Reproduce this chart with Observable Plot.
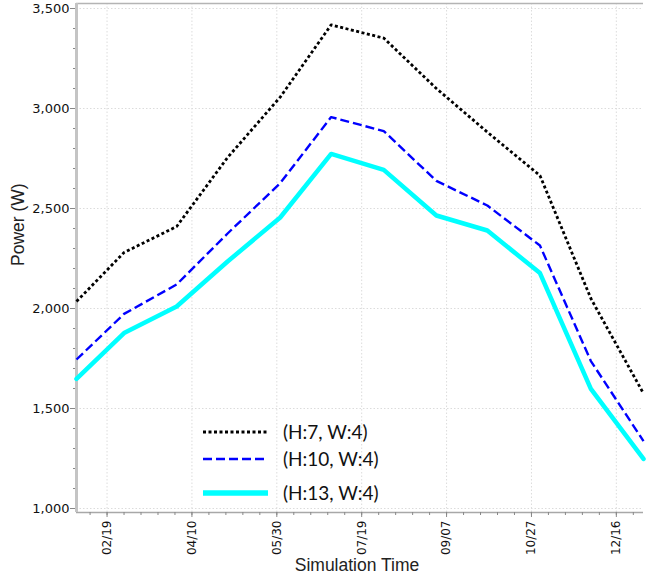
<!DOCTYPE html>
<html><head><meta charset="utf-8">
<script src="https://cdn.jsdelivr.net/npm/d3@7"></script>
<script src="https://cdn.jsdelivr.net/npm/@observablehq/plot@0.6"></script>
<style>
body{margin:0;background:#fff}
#wrap{position:relative;width:648px;height:586px}
#legend{position:absolute;left:203px;top:0;font-family:Lato,"Open Sans",sans-serif;font-size:19px;color:#111}
.row{position:absolute;left:0;white-space:nowrap}
.row svg{position:absolute;left:0;overflow:visible}
.row span{position:absolute;left:80px;line-height:20px}
</style>
</head><body><div id="wrap"></div>
<script>
// --- data ---
const dates = ["2019-02-01","2019-03-01","2019-04-01","2019-05-01","2019-06-01","2019-07-01","2019-08-01","2019-09-01","2019-10-01","2019-11-01","2019-12-01","2020-01-01"];
const seriesNames = ["(H:7, W:4)","(H:10, W:4)","(H:13, W:4)"];
const h7  = [2035, 2280, 2410, 2755, 3057, 3418, 3352, 3100, 2882, 2665, 2050, 1575];
const h10 = [1745, 1973, 2120, 2375, 2627, 2957, 2887, 2638, 2515, 2315, 1737, 1337];
const h13 = [1648, 1877, 2010, 2235, 2455, 2773, 2693, 2465, 2390, 2177, 1598, 1248];
const xTickLabels = ["02/19","04/10","05/30","07/19","09/07","10/27","12/16"];
const yTicks = [1000,1500,2000,2500,3000,3500];
const seriesColors = ["#000000","#0000ff","#00ffff"];

// --- build ---
const parse = d3.utcParse("%Y-%m-%d");
const rows = [];
[h7,h10,h13].forEach((vals,i)=>vals.forEach((v,j)=>rows.push({date:parse(dates[j]),power:v,series:seriesNames[i]})));
const xTicks = xTickLabels.map(s=>d3.utcParse("%Y/%m/%d")("2019/"+s));
const xDomain = [parse(dates[0]), parse(dates[dates.length-1])];
const xMinor = d3.range(-3,40).map(k=>d3.utcDay.offset(xTicks[0],10*k)).filter(d=>d>=xDomain[0]&&d<=xDomain[1]);
const yMinor = d3.range(1000,3501,100);
const yDomain = [980,3525];

const styles = [
  {strokeWidth:2.8, strokeDasharray:"3,2.5", strokeLinecap:"butt"},
  {strokeWidth:2.4, strokeDasharray:"9,4", strokeLinecap:"butt"},
  {strokeWidth:4.5}
];

const chart = Plot.plot({
  width:648, height:586,
  marginLeft:76, marginRight:5, marginTop:3, marginBottom:74,
  x:{type:"utc", domain:xDomain},
  y:{domain:yDomain},
  style:{fontFamily:"'DejaVu Sans', sans-serif", fontSize:"13px", color:"#111", background:"#fff"},
  marks:[
    Plot.gridX(xTicks,{stroke:"#dcdcdc", strokeOpacity:1, strokeDasharray:"1.5,2"}),
    Plot.gridY(yTicks,{stroke:"#dcdcdc", strokeOpacity:1, strokeDasharray:"1.5,2"}),
    Plot.ruleY([yDomain[1]],{stroke:"#b4b4b4", strokeWidth:1.5}),
    Plot.ruleY([yDomain[0]],{stroke:"#a8a8a8", strokeWidth:1.5}),
    Plot.axisY(yMinor,{tickSize:3, tickFormat:()=>"", stroke:"#888", label:null}),
    Plot.axisY(yTicks,{tickSize:6, tickPadding:1, tickFormat:d3.format(","), stroke:"#888", fontSize:13, label:null}),
    Plot.axisX(xMinor,{tickSize:3, tickFormat:()=>"", stroke:"#888", label:null}),
    Plot.axisX(xTicks,{tickSize:5, tickPadding:3, tickRotate:-90, tickFormat:d3.utcFormat("%m/%d"), stroke:"#888", fontSize:12, label:null}),
    Plot.ruleX([xDomain[0]],{stroke:"#c4c4c4", strokeWidth:3}),
    ...seriesNames.map((s,i)=>Plot.line(rows.filter(r=>r.series===s),{x:"date", y:"power", stroke:seriesColors[i], ...styles[i]})),
    Plot.text(["Power (W)"],{frameAnchor:"left", rotate:-90, dx:-58, dy:8, fontSize:17.5, fontFamily:"'Liberation Sans', Arial, sans-serif", fill:"#222"}),
    Plot.text(["Simulation Time"],{frameAnchor:"bottom", dy:58, dx:-3, fontSize:17.5, fontFamily:"'Liberation Sans', Arial, sans-serif", fill:"#222"})
  ]
});
const wrap = document.getElementById("wrap");
wrap.appendChild(chart);

// legend
const leg = document.createElement("div");
leg.id = "legend";
const lineYs = [432,459,493];
seriesNames.forEach((s,i)=>{
  const row = document.createElement("div");
  row.className = "row";
  row.style.top = (lineYs[i]-10)+"px";
  const st = styles[i];
  row.innerHTML = `<svg width="66" height="20"><line x1="0" x2="65" y1="10" y2="10" stroke="${seriesColors[i]}" stroke-width="${st.strokeWidth+(i===2?1:0)}" ${st.strokeDasharray?`stroke-dasharray="${st.strokeDasharray}"`:""}/></svg><span>${s}</span>`;
  leg.appendChild(row);
});
wrap.appendChild(leg);
</script>
</body></html>
